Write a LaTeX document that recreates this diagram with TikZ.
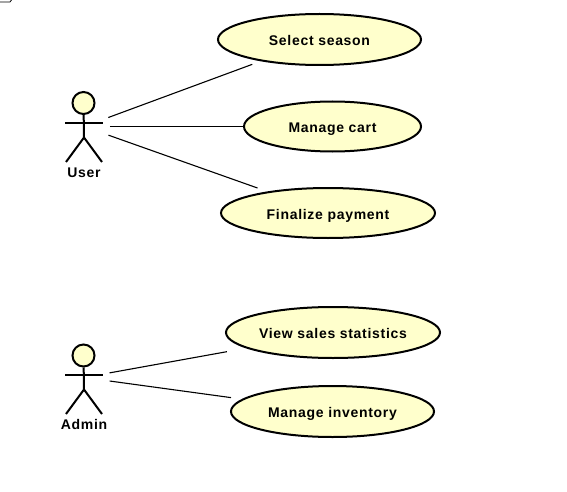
\documentclass[tikz,border=0pt]{standalone}
\usepackage{fontspec}
\setmainfont{Liberation Sans}[LetterSpace=5]
\definecolor{ucfill}{HTML}{FFFFCC}
\tikzset{
  usecase/.style={ellipse,draw,line width=2pt,fill=ucfill,inner sep=0pt,text height=13pt,text depth=1pt,font=\bfseries\fontsize{14}{16}\selectfont},
  actorbox/.style={circle,minimum size=51.5pt,inner sep=0pt},
  actorhead/.style={circle,draw,line width=2pt,fill=ucfill,minimum size=22pt,inner sep=0pt},
  actorlabel/.style={inner sep=0pt,font=\bfseries\fontsize{14}{16}\selectfont},
  limb/.style={line width=2pt},
  assoc/.style={line width=1.1pt}
}
\usetikzlibrary{shapes.geometric}
\begin{document}
\begin{tikzpicture}
  [x=1pt,y=-1pt]
  \useasboundingbox (0,0) rectangle (567,492);
  \draw[line width=.8pt] (0,2) -- (10,2) -- (11.5,0);
  % use cases
  \node[usecase,minimum width=203pt,minimum height=51pt] (nseason) at (319.5,39.5) {Select season};
  \node[usecase,minimum width=177pt,minimum height=50pt] (ncart) at (332.5,126.5) {Manage cart};
  \node[usecase,minimum width=214pt,minimum height=50pt] (npay) at (328,213) {Finalize payment};
  \node[usecase,minimum width=214pt,minimum height=51pt] (nstats) at (333,332.5) {View sales statistics};
  \node[usecase,minimum width=203pt,minimum height=51pt] (nstock) at (332.5,411.5) {Manage inventory};
  % actors
  \node[actorbox] (nuser) at (84,126.5) {};
  \node[actorbox] (nadmin) at (84,377.5) {};
  \node[actorhead] (nuserhead) at (83.5,103) {};
  \node[actorhead] (nadminhead) at (83.5,355.5) {};
  \node[actorlabel] (nuserlabel) at (84,172.5) {User};
  \node[actorlabel] (nadminlabel) at (84,424.5) {Admin};
  \foreach \who/\yy in {nuser/123,nadmin/375}{
    \coordinate (\who hip) at (84,\yy+14.5);
    \draw[limb] (65,\yy) -- (103,\yy);
    \draw[limb] (\who head) -- (\who hip);
    \draw[limb] (66,\yy+39) -- (\who hip) -- (102,\yy+39);
  }
  % associations, stopped short of the ellipse
  \foreach \from/\to/\gap in {nuser/nseason/9,nuser/ncart/0,nuser/npay/10.5,nadmin/nstats/19.5,nadmin/nstock/11}
    \draw[assoc,shorten >=\gap pt] (\from) -- (\to);
\end{tikzpicture}
\end{document}
